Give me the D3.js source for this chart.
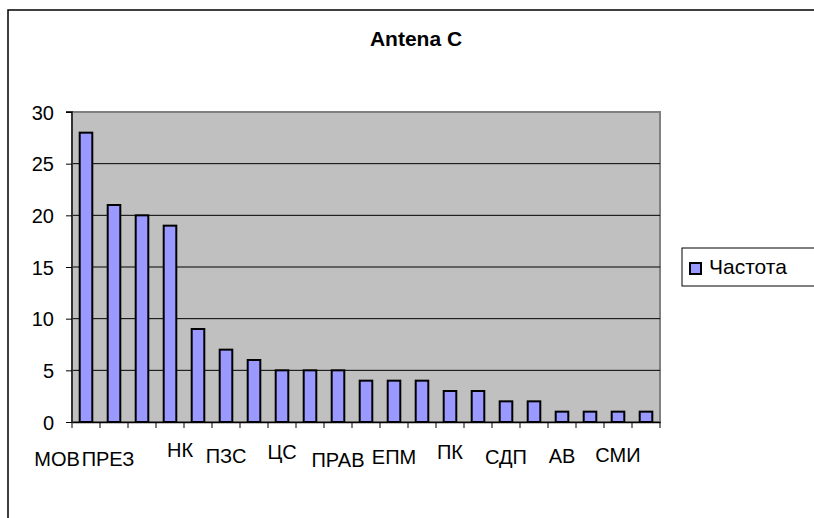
<!DOCTYPE html>
<html><head><meta charset="utf-8">
<script src="https://cdn.jsdelivr.net/npm/d3@7"></script>
<style>
html,body{margin:0;padding:0;background:#fff;}
svg{display:block;font-family:"Liberation Sans",Arial,sans-serif;}
</style></head>
<body>
<svg id="chart" width="814" height="518"></svg>
<script>
// ---- data ----
const title = "Antena C";
const seriesName = "Частота";
const categories = ["МОВ","ПРЕЗ","","НК","","ПЗС","","ЦС","","ПРАВ","","ЕПМ","","ПК","","СДП","","АВ","","СМИ",""];
const values = [28,21,20,19,9,7,6,5,5,5,4,4,4,3,3,2,2,1,1,1,1];
const yTicks = [0,5,10,15,20,25,30];
// label layout nudges (dx, baseline y) for the staggered category labels
const labelDx = {0:-29,1:-6,3:10};
const labelY  = {0:466,1:466,3:457,5:463,7:459,9:467,11:464,13:459,15:464,17:463,19:462};

const svg = d3.select("#chart");
const plot = {x0:72, x1:660, y0:112, y1:422};

// chart frame
svg.append("rect").attr("x",8).attr("y",10).attr("width",900).attr("height",700)
  .attr("fill","#fff").attr("stroke","#000").attr("stroke-width",1.5);

const x = d3.scaleBand().domain(d3.range(values.length)).range([plot.x0,plot.x1])
  .paddingInner(0.55).paddingOuter(0.275);
const y = d3.scaleLinear().domain([0,30]).range([plot.y1,plot.y0]);

// plot area
svg.append("rect").attr("x",plot.x0).attr("y",plot.y0)
  .attr("width",plot.x1-plot.x0).attr("height",plot.y1-plot.y0)
  .attr("fill","#c0c0c0").attr("stroke","#808080").attr("stroke-width",2);

// gridlines
svg.append("g").selectAll("line").data(yTicks.filter(d=>d>0 && d<30)).join("line")
  .attr("x1",plot.x0).attr("x2",plot.x1).attr("y1",d=>y(d)).attr("y2",d=>y(d))
  .attr("stroke","#000").attr("stroke-width",1);

// bars
svg.append("g").selectAll("rect").data(values).join("rect")
  .attr("x",(d,i)=>x(i)).attr("width",x.bandwidth())
  .attr("y",d=>y(d)).attr("height",d=>y(0)-y(d))
  .attr("fill","#9999ff").attr("stroke","#000").attr("stroke-width",2);

// y axis
const yAxis = d3.axisLeft(y).tickValues(yTicks).tickSize(6).tickPadding(12);
const gy = svg.append("g").attr("transform",`translate(${plot.x0},0)`).call(yAxis);
gy.select(".domain").attr("stroke","#333").attr("stroke-width",2).attr("d",`M-6,${plot.y0}H0V${plot.y1}`);
gy.selectAll(".tick line").attr("stroke","#000");
gy.selectAll(".tick text").attr("font-size",20).attr("fill","#000")
  .attr("font-family","'Liberation Sans',Arial,sans-serif").attr("dy","0.36em");

// x axis
const xAxis = d3.axisBottom(x).tickSize(0).tickFormat("");
const gx = svg.append("g").attr("transform",`translate(0,${plot.y1})`).call(xAxis);
gx.select(".domain").attr("stroke","#000").attr("stroke-width",1.5);
// category boundary ticks
const bounds = d3.range(values.length+1).map(i=>plot.x0 + i*x.step());
gx.selectAll(".btick").data(bounds).join("line").attr("class","btick")
  .attr("x1",d=>d).attr("x2",d=>d).attr("y1",0).attr("y2",6).attr("stroke","#000");

// category labels
svg.append("g").selectAll("text")
  .data(categories.map((c,i)=>({c,i})).filter(d=>d.c!==""))
  .join("text")
  .attr("x",d=>x(d.i)+x.bandwidth()/2+(labelDx[d.i]||0))
  .attr("y",d=>labelY[d.i])
  .attr("text-anchor","middle").attr("font-size",20).attr("fill","#000")
  .text(d=>d.c);

// title
svg.append("text").attr("x",416).attr("y",46).attr("text-anchor","middle")
  .attr("font-size",21).attr("font-weight","bold").text(title);

// legend
const lg = svg.append("g");
lg.append("rect").attr("x",682).attr("y",248).attr("width",140).attr("height",38)
  .attr("fill","#fff").attr("stroke","#000").attr("stroke-width",1);
lg.append("rect").attr("x",690).attr("y",263).attr("width",11).attr("height",11)
  .attr("fill","#9999ff").attr("stroke","#000").attr("stroke-width",2);
lg.append("text").attr("x",709).attr("y",274).attr("font-size",21).text(seriesName);
</script>
</body></html>
